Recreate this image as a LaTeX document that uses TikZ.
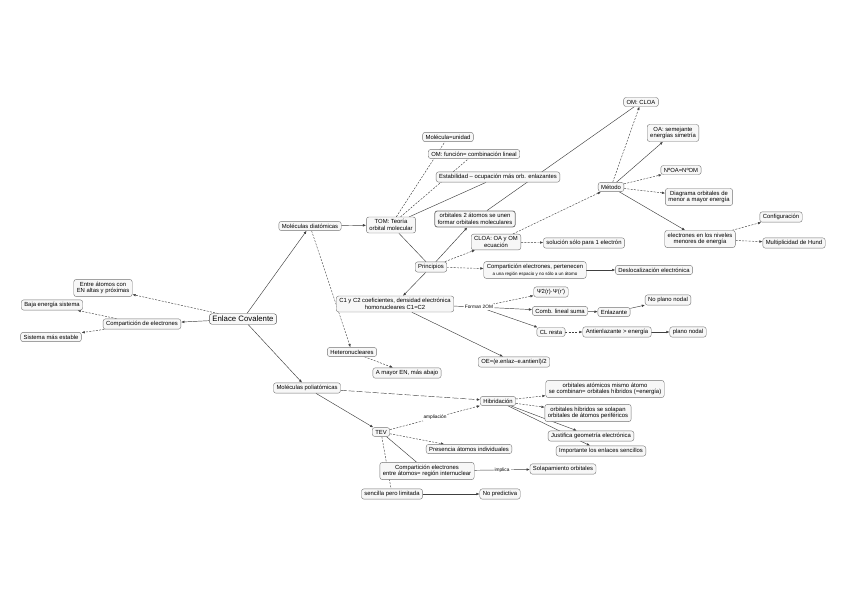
\documentclass[tikz,border=0pt]{standalone}
\usepackage{fontspec}
\setmainfont{Liberation Sans}
\usetikzlibrary{arrows.meta, positioning, backgrounds}

\begin{document}
\begin{tikzpicture}[
  x=1pt, y=-1pt,
  every node/.style={font=\fontsize{5.9}{6.8}\selectfont},
  concept/.style={rectangle, draw=black!55, fill=gray!6, rounded corners=2.5pt,
                  inner xsep=3pt, inner ysep=2.4pt, align=center},
  linkword/.style={inner sep=1pt, fill=white, font=\fontsize{4.8}{5.6}\selectfont},
  conn/.style={draw=black!75, line width=0.45pt},
  arr/.style={conn, -{Latex[length=3.2pt, width=2.6pt]}},
  darr/.style={arr, dash pattern=on 2pt off 1.3pt},
  dline/.style={conn, dash pattern=on 2pt off 1.3pt}
]
  \useasboundingbox (0,0) rectangle (848,599);

  \node[concept, font=\fontsize{7.8}{9}\selectfont, draw=black!70] (enlace) at (243,319) {Enlace Covalente};
  \node[concept] (comp)    at (142,324) {Compartición de electrones};
  \node[concept] (entre)   at (103,288) {Entre átomos con\\EN altas y próximas};
  \node[concept] (baja)    at (52,305)  {Baja energía sistema};
  \node[concept] (estable) at (51,337)  {Sistema más estable};

  \node[concept] (diat)    at (310,226) {Moléculas diatómicas};
  \node[concept] (tom)     at (391,225) {TOM: Teoría\\orbital molecular};
  \node[concept] (unidad)  at (448,137) {Molécula=unidad};
  \node[concept] (oml)     at (474,154) {OM: función= combinación lineal};
  \node[concept] (estab)   at (498,177) {Estabilidad – ocupación más orb. enlazantes};
  \node[concept, line width=0.8pt] (orb2) at (475,219) {orbitales 2 átomos se unen\\formar orbitales moleculares};
  \node[concept] (princ)   at (431,267) {Principios};
  \node[concept] (cloa)    at (496,242) {CLOA: OA y OM\\ecuación};
  \node[concept] (sol)     at (584,243) {solución sólo para 1 electrón};
  \node[concept] (pert)    at (535,270) {Compartición electrones, pertenecen\\{\fontsize{4.5}{5.3}\selectfont a una región espacio y no sólo a un átomo}};
  \node[concept] (desl)    at (654,270) {Deslocalización electrónica};

  \node[concept] (metodo)  at (611,187) {Método};
  \node[concept] (omcloa)  at (641,102) {OM: CLOA};
  \node[concept] (oasem)   at (673,133) {OA: semejante\\energías simetría};
  \node[concept] (noa)     at (681,170) {NºOA=NºOM};
  \node[concept] (diag)    at (699,197) {Diagrama orbitales de\\menor a mayor energía};
  \node[concept] (elec)    at (700,239) {electrones en los niveles\\menores de energía};
  \node[concept] (conf)    at (781,217) {Configuración};
  \node[concept] (hund)    at (794,243) {Multiplicidad de Hund};

  \node[concept] (coef)    at (395,304) {C1 y C2 coeficientes, densidad electrónica\\homonucleares C1=C2};
  \node[linkword] (forman) at (479,307) {Forman 2OM};
  \node[concept] (psi)     at (551,292) {Ψ2(r)·Ψ(r')};
  \node[concept] (suma)    at (560,311) {Comb. lineal suma};
  \node[concept] (enlz)    at (614,312) {Enlazante};
  \node[concept] (noplano) at (668,300) {No plano nodal};
  \node[concept] (resta)   at (551,332) {CL resta};
  \node[concept] (antie)   at (617,332) {Antienlazante > energía};
  \node[concept] (plano)   at (688,332) {plano nodal};
  \node[concept] (oe)      at (514,362) {OE=(e.enlaz–e.antienl)/2};
  \node[concept] (hetero)  at (352,352) {Heteronucleares};
  \node[concept] (mayor)   at (407,373) {A mayor EN, más abajo};

  \node[concept] (poli)    at (307,388) {Moléculas poliatómicas};
  \node[concept] (hib)     at (498,401) {Hibridación};
  \node[concept] (oahib)   at (605,389) {orbitales atómicos mismo átomo\\se combinan= orbitales híbridos (=energía)};
  \node[concept] (solap)   at (588,413) {orbitales híbridos se solapan\\orbitales de átomos periféricos};
  \node[concept] (justif)  at (591,436) {Justifica geometría electrónica};
  \node[concept] (import)  at (601,451) {Importante los enlaces sencillos};
  \node[concept] (tev)     at (381,432) {TEV};
  \node[concept] (pres)    at (469,449) {Presencia átomos individuales};
  \node[concept] (compint) at (427,471) {Compartición electrones\\entre átomos= región internuclear};
  \node[concept] (solorb)  at (563,469) {Solapamiento orbitales};
  \node[concept] (senc)    at (392,494) {sencilla pero limitada};
  \node[concept] (nopred)  at (500,494) {No predictiva};

  \begin{scope}[on background layer]
  \foreach \a/\b in {enlace/comp, enlace/diat, enlace/poli, diat/tom, princ/orb2, princ/coef,
                     pert/desl, metodo/oasem, metodo/elec, forman/suma, forman/resta,
                     suma/enlz, enlz/noplano, antie/plano, coef/oe, poli/tev, hib/justif,
                     hib/import, senc/nopred}{
    \draw[arr] (\a) -- (\b);
  }
  \foreach \a/\b in {enlace/entre, comp/baja, comp/estable, diat/hetero, princ/cloa, princ/pert,
                     cloa/sol, cloa/metodo, metodo/omcloa, metodo/noa, metodo/diag, elec/conf,
                     elec/hund, forman/psi, resta/antie, hetero/mayor, hib/oahib, hib/solap,
                     tev/pres}{
    \draw[darr] (\a) -- (\b);
  }
  \foreach \a/\b in {tom/estab, tom/princ, orb2/omcloa, coef/forman, tev/compint}{
    \draw[conn] (\a) -- (\b);
  }
  \foreach \a/\b in {tom/unidad, tom/oml, tev/senc}{
    \draw[dline] (\a) -- (\b);
  }
  \draw[arr, dash pattern=on 6pt off 2pt] (poli) -- (hib);
  \draw[darr] (tev) -- node[linkword] {ampliación} (hib);
  \draw[arr] (compint) -- node[linkword] {implica} (solorb);
  \end{scope}
\end{tikzpicture}
\end{document}
